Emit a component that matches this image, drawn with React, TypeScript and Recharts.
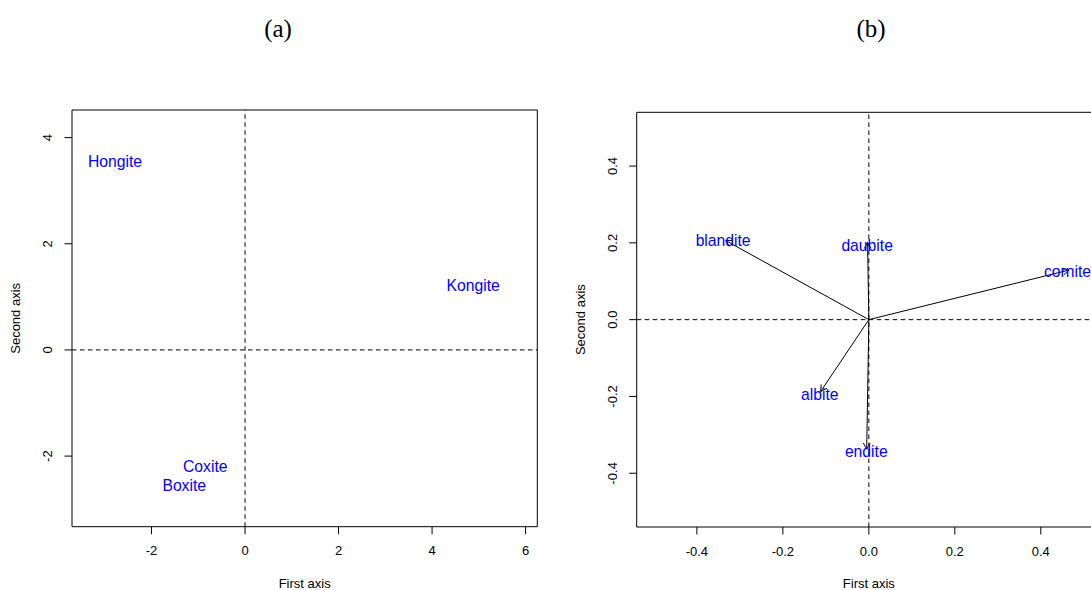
import React from 'react';
import {
  ScatterChart,
  Scatter,
  XAxis,
  YAxis,
  ReferenceLine,
  ReferenceArea,
  Label,
} from 'recharts';

// (a) site scores
const siteNames = ['Hongite', 'Kongite', 'Coxite', 'Boxite'];
const siteX = [-2.78, 4.88, -0.85, -1.3];
const siteY = [3.55, 1.21, -2.2, -2.56];
const siteTicksX = [-2, 0, 2, 4, 6];
const siteTicksY = [-2, 0, 2, 4];
const siteDomainX = [-3.7, 6.25];
const siteDomainY = [-3.33, 4.52];

// (b) species arrows
const speciesNames = ['albite', 'blandite', 'cornite', 'daubite', 'endite'];
const arrowX = [-0.112, -0.333, 0.465, -0.003, -0.005];
const arrowY = [-0.187, 0.206, 0.129, 0.201, -0.337];
const labelX = [-0.114, -0.339, 0.462, -0.004, -0.006];
const labelY = [-0.195, 0.207, 0.125, 0.194, -0.343];
const speciesTicks = [-0.4, -0.2, 0, 0.2, 0.4];
const speciesDomain = [-0.54, 0.54];

const sans = '"Liberation Sans", Arial, sans-serif';
const serif = '"Liberation Serif", "Times New Roman", serif';
const blue = '#0000ff';

const siteData = siteNames.map((name, i) => ({ x: siteX[i], y: siteY[i], name }));
const speciesLabels = speciesNames.map((name, i) => ({ x: labelX[i], y: labelY[i], name }));

const fmtInt = (v: number) => String(v);
const fmtOne = (v: number) => v.toFixed(1);

const makeXTick = (fmt: (v: number) => string) => (p: any) => (
  <text x={p.x} y={p.y + 19} textAnchor="middle" fontSize={13} fontFamily={sans} fill="#000">
    {fmt(p.payload.value)}
  </text>
);

const makeYTick = (fmt: (v: number) => string) => (p: any) => {
  const bx = p.x - 10;
  return (
    <text
      x={bx}
      y={p.y}
      transform={`rotate(-90, ${bx}, ${p.y})`}
      textAnchor="middle"
      fontSize={13}
      fontFamily={sans}
      fill="#000"
    >
      {fmt(p.payload.value)}
    </text>
  );
};

const xTitle = (props: any) => {
  const vb = props.viewBox;
  return (
    <text x={vb.x + vb.width / 2} y={vb.y + 61} textAnchor="middle" fontSize={13} fontFamily={sans} fill="#000">
      First axis
    </text>
  );
};

const yTitle = (props: any) => {
  const vb = props.viewBox;
  const bx = vb.x + vb.width - 51.5;
  const cy = vb.y + vb.height / 2;
  return (
    <text
      x={bx}
      y={cy}
      transform={`rotate(-90, ${bx}, ${cy})`}
      textAnchor="middle"
      fontSize={13}
      fontFamily={sans}
      fill="#000"
    >
      Second axis
    </text>
  );
};

const TextMark = (p: any) => (
  <text
    x={p.cx}
    y={p.cy}
    textAnchor="middle"
    dominantBaseline="central"
    fontSize={15.7}
    fontFamily={sans}
    fill={blue}
  >
    {p.payload.name}
  </text>
);

const Arrow = (p: any) => {
  const { x1, y1, x2, y2 } = p;
  const ang = Math.atan2(y2 - y1, x2 - x1);
  const len = 7;
  const spread = Math.PI / 6;
  const ax = x2 - len * Math.cos(ang - spread);
  const ay = y2 - len * Math.sin(ang - spread);
  const bx = x2 - len * Math.cos(ang + spread);
  const by = y2 - len * Math.sin(ang + spread);
  return (
    <g>
      <line x1={x1} y1={y1} x2={x2} y2={y2} stroke="#000" strokeWidth={1} />
      <polyline points={`${ax},${ay} ${x2},${y2} ${bx},${by}`} fill="none" stroke="#000" strokeWidth={1} />
    </g>
  );
};

function SitesPlot() {
  return (
    <ScatterChart width={545} height={590} margin={{ top: 110, right: 7.7, bottom: 23.3, left: 32 }}>
      <XAxis
        type="number"
        dataKey="x"
        domain={siteDomainX}
        ticks={siteTicksX}
        allowDataOverflow
        axisLine={false}
        tickLine={{ stroke: '#000' }}
        tickSize={7.5}
        height={40}
        tick={makeXTick(fmtInt)}
      >
        <Label content={xTitle} />
      </XAxis>
      <YAxis
        type="number"
        dataKey="y"
        domain={siteDomainY}
        ticks={siteTicksY}
        allowDataOverflow
        axisLine={false}
        tickLine={{ stroke: '#000' }}
        tickSize={7.5}
        width={40}
        tick={makeYTick(fmtInt)}
      >
        <Label content={yTitle} />
      </YAxis>
      <ReferenceLine x={0} stroke="#000" strokeDasharray="4.5 3.5" />
      <ReferenceLine y={0} stroke="#000" strokeDasharray="4.5 3.5" />
      <ReferenceArea
        x1={siteDomainX[0]}
        x2={siteDomainX[1]}
        y1={siteDomainY[0]}
        y2={siteDomainY[1]}
        fill="none"
        stroke="#000"
        strokeWidth={1}
      />
      <Scatter data={siteData} shape={TextMark} isAnimationActive={false} />
    </ScatterChart>
  );
}

function SpeciesPlot() {
  return (
    <ScatterChart width={560} height={590} margin={{ top: 112.3, right: 19, bottom: 23, left: 36.7 }}>
      <XAxis
        type="number"
        dataKey="x"
        domain={speciesDomain}
        ticks={speciesTicks}
        allowDataOverflow
        axisLine={false}
        tickLine={{ stroke: '#000' }}
        tickSize={7.5}
        height={40}
        tick={makeXTick(fmtOne)}
      >
        <Label content={xTitle} />
      </XAxis>
      <YAxis
        type="number"
        dataKey="y"
        domain={speciesDomain}
        ticks={speciesTicks}
        allowDataOverflow
        axisLine={false}
        tickLine={{ stroke: '#000' }}
        tickSize={7.5}
        width={40}
        tick={makeYTick(fmtOne)}
      >
        <Label content={yTitle} />
      </YAxis>
      <ReferenceLine x={0} stroke="#000" strokeDasharray="4.5 3.5" />
      <ReferenceLine y={0} stroke="#000" strokeDasharray="4.5 3.5" />
      <ReferenceArea
        x1={speciesDomain[0]}
        x2={speciesDomain[1]}
        y1={speciesDomain[0]}
        y2={speciesDomain[1]}
        fill="none"
        stroke="#000"
        strokeWidth={1}
      />
      {speciesNames.map((name, i) => (
        <ReferenceLine
          key={name}
          segment={[
            { x: 0, y: 0 },
            { x: arrowX[i], y: arrowY[i] },
          ]}
          shape={Arrow}
        />
      ))}
      <Scatter data={speciesLabels} shape={TextMark} isAnimationActive={false} />
    </ScatterChart>
  );
}

export default function App() {
  return (
    <div
      style={{
        position: 'absolute',
        left: 0,
        top: 0,
        width: 1091,
        height: 590,
        overflow: 'hidden',
        background: '#fff',
      }}
    >
      <svg width={1091} height={590} style={{ position: 'absolute', left: 0, top: 0 }}>
        <text x={278} y={36.5} textAnchor="middle" fontSize={25} fontFamily={serif} fill="#000">
          (a)
        </text>
        <text x={871} y={36.5} textAnchor="middle" fontSize={25} fontFamily={serif} fill="#000">
          (b)
        </text>
      </svg>
      <div style={{ position: 'absolute', left: 0, top: 0 }}>
        <SitesPlot />
      </div>
      <div style={{ position: 'absolute', left: 560, top: 0 }}>
        <SpeciesPlot />
      </div>
    </div>
  );
}
